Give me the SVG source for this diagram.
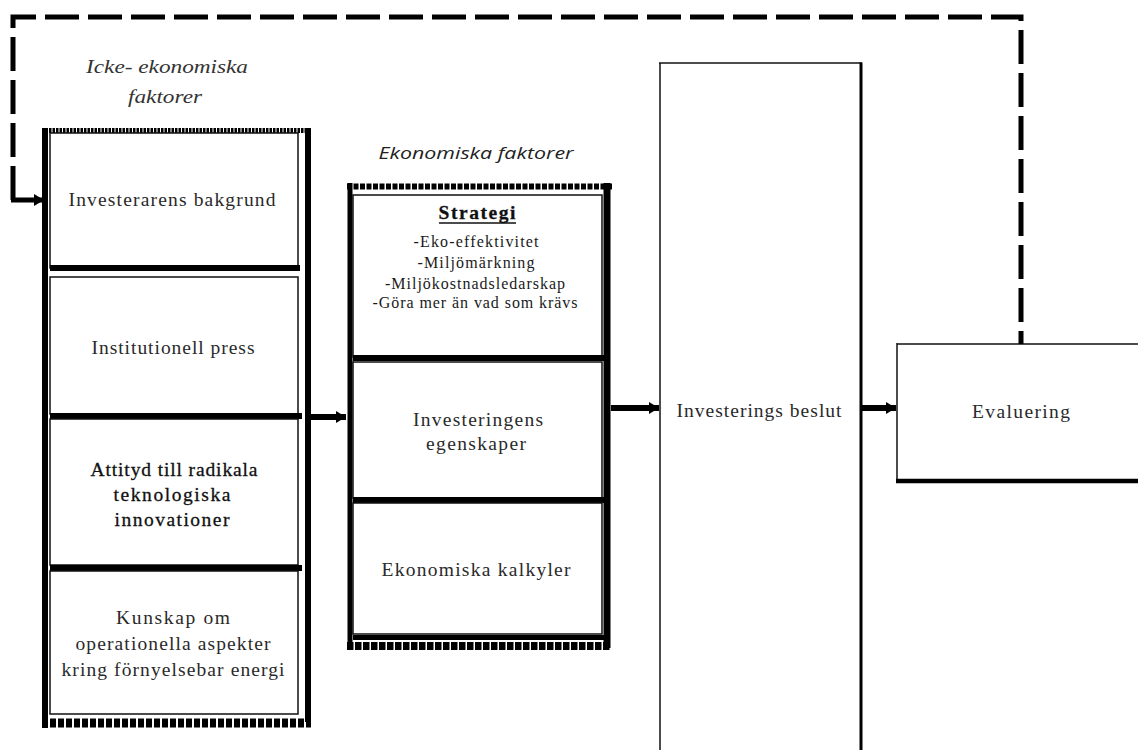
<svg xmlns="http://www.w3.org/2000/svg" width="1138" height="750" viewBox="0 0 1138 750">
<defs>
<style>
.t{font-family:"Liberation Serif","Times New Roman",serif;font-size:19.5px;fill:#2a2a2a;text-anchor:middle}
.tb{font-family:"Liberation Serif","Times New Roman",serif;font-size:19.5px;fill:#111;text-anchor:middle;stroke:#111;stroke-width:0.3}
.s{font-family:"Liberation Serif","Times New Roman",serif;font-size:16px;fill:#1a1a1a;text-anchor:middle}
.it{font-family:"Liberation Serif","Times New Roman",serif;font-style:italic;font-size:19px;fill:#333;text-anchor:middle}
.is{font-family:"Open Sans","Liberation Sans",sans-serif;font-style:italic;font-size:17px;fill:#222;text-anchor:middle}
.thin{fill:none;stroke:#111;stroke-width:1.5}
.bar{stroke:#000;fill:none}
.hatch{stroke:#000;fill:none;stroke-dasharray:5 1.5}
.dash{stroke:#000;fill:none;stroke-width:5;stroke-dasharray:34 9}
.arr{stroke:#000;stroke-width:6;fill:none}
</style>
<marker id="ah" markerUnits="userSpaceOnUse" markerWidth="12" markerHeight="14" refX="10" refY="7" orient="auto">
<path d="M0,1 L10,7 L0,13 z" fill="#000"/>
</marker>
</defs>
<rect width="1138" height="750" fill="#fff"/>

<g id="labels">
<text class="it" x="167" y="73" textLength="162" lengthAdjust="spacingAndGlyphs">Icke- ekonomiska</text>
<text class="it" x="165" y="103" textLength="74" lengthAdjust="spacingAndGlyphs">faktorer</text>
<text class="is" x="476" y="159" textLength="195" lengthAdjust="spacingAndGlyphs">Ekonomiska faktorer</text>
</g>

<g id="non-economic-group">
<line class="hatch" x1="42" y1="130.5" x2="311" y2="130.5" stroke-width="5" style="stroke-dasharray:2.5 1"/>
<line class="bar" x1="45" y1="128" x2="45" y2="728" stroke-width="6"/>
<line class="bar" x1="308" y1="128" x2="308" y2="722" stroke-width="6"/>
<line class="hatch" x1="42" y1="723" x2="311" y2="723" stroke-width="9" style="stroke-dasharray:6 2"/>
</g>

<g id="node-investerarens-bakgrund">
<rect class="thin" x="50" y="133" width="248" height="135"/>
<line class="bar" x1="50" y1="268" x2="300" y2="268" stroke-width="6"/>
<text class="t" x="172" y="206" textLength="207" lengthAdjust="spacing">Investerarens bakgrund</text>
</g>

<g id="node-institutionell-press">
<rect class="thin" x="50" y="277" width="248" height="137"/>
<line class="bar" x1="50" y1="416" x2="302" y2="416" stroke-width="6"/>
<text class="t" x="173" y="354" textLength="163" lengthAdjust="spacing">Institutionell press</text>
</g>

<g id="node-attityd">
<rect class="thin" x="50" y="419" width="248" height="146"/>
<line class="bar" x1="50" y1="568" x2="302" y2="568" stroke-width="6"/>
<text class="tb" x="174" y="476" textLength="167" lengthAdjust="spacing">Attityd till radikala</text>
<text class="tb" x="172" y="501" textLength="117" lengthAdjust="spacing">teknologiska</text>
<text class="tb" x="172" y="526" textLength="115" lengthAdjust="spacing">innovationer</text>
</g>

<g id="node-kunskap">
<rect class="thin" x="50" y="571" width="248" height="143"/>
<text class="t" x="173" y="624" textLength="114" lengthAdjust="spacing">Kunskap om</text>
<text class="t" x="173" y="650" textLength="195" lengthAdjust="spacing">operationella aspekter</text>
<text class="t" x="173" y="676" textLength="223" lengthAdjust="spacing">kring förnyelsebar energi</text>
</g>

<g id="economic-group">
<line class="hatch" x1="347" y1="186.5" x2="612" y2="186.5" stroke-width="6" style="stroke-dasharray:5 1.5"/>
<line class="bar" x1="350" y1="183" x2="350" y2="650" stroke-width="5"/>
<line class="bar" x1="607" y1="183" x2="607" y2="648" stroke-width="7"/>
<line class="hatch" x1="347" y1="646" x2="610" y2="646" stroke-width="8" style="stroke-dasharray:6.5 1.5"/>
</g>

<g id="node-strategi">
<rect class="thin" x="353" y="195" width="249" height="162"/>
<line class="bar" x1="353" y1="358" x2="604" y2="358" stroke-width="6"/>
<text class="tb" x="477" y="219" font-size="20" font-weight="bold" textLength="77" lengthAdjust="spacing">Strategi</text>
<line x1="439" y1="223" x2="516" y2="223" stroke="#111" stroke-width="1.3"/>
<text class="s" x="476" y="247" textLength="125" lengthAdjust="spacing">-Eko-effektivitet</text>
<text class="s" x="476" y="268" textLength="117" lengthAdjust="spacing">-Miljömärkning</text>
<text class="s" x="475" y="289" textLength="180" lengthAdjust="spacing">-Miljökostnadsledarskap</text>
<text class="s" x="475" y="308" textLength="205" lengthAdjust="spacing">-Göra mer än vad som krävs</text>
</g>

<g id="node-investeringens-egenskaper">
<rect class="thin" x="353" y="362" width="249" height="136"/>
<line class="bar" x1="353" y1="500" x2="604" y2="500" stroke-width="6"/>
<text class="t" x="478" y="426" textLength="130" lengthAdjust="spacing">Investeringens</text>
<text class="t" x="476" y="450" textLength="100" lengthAdjust="spacing">egenskaper</text>
</g>

<g id="node-ekonomiska-kalkyler">
<rect class="thin" x="353" y="503" width="249" height="131"/>
<line class="bar" x1="353" y1="637.5" x2="604" y2="637.5" stroke-width="5"/>
<text class="t" x="476" y="576" textLength="189" lengthAdjust="spacing">Ekonomiska kalkyler</text>
</g>

<g id="node-investerings-beslut">
<line x1="660" y1="63" x2="660" y2="752" stroke="#111" stroke-width="1.5"/>
<line x1="659" y1="63" x2="862" y2="63" stroke="#111" stroke-width="1.5"/>
<line x1="861" y1="62.5" x2="861" y2="752" stroke="#000" stroke-width="3"/>
<text class="t" x="759" y="417" textLength="165" lengthAdjust="spacing">Investerings beslut</text>
</g>

<g id="node-evaluering">
<line x1="897" y1="344" x2="1140" y2="344" stroke="#111" stroke-width="1.5"/>
<line x1="897" y1="343" x2="897" y2="483" stroke="#111" stroke-width="1.5"/>
<line x1="896" y1="481" x2="1140" y2="481" stroke="#000" stroke-width="4.5"/>
<text class="t" x="1021" y="418" textLength="98" lengthAdjust="spacing">Evaluering</text>
</g>

<g id="connectors">
<path class="dash" d="M13,200 L13,17 L1021,17 L1021,344"/>
<line x1="11" y1="200" x2="44" y2="200" stroke="#000" stroke-width="5" marker-end="url(#ah)"/>
<line class="arr" x1="311" y1="417" x2="346" y2="417" marker-end="url(#ah)"/>
<line class="arr" x1="611" y1="408" x2="659" y2="408" marker-end="url(#ah)"/>
<line class="arr" x1="862" y1="408" x2="896" y2="408" marker-end="url(#ah)"/>
</g>
</svg>
